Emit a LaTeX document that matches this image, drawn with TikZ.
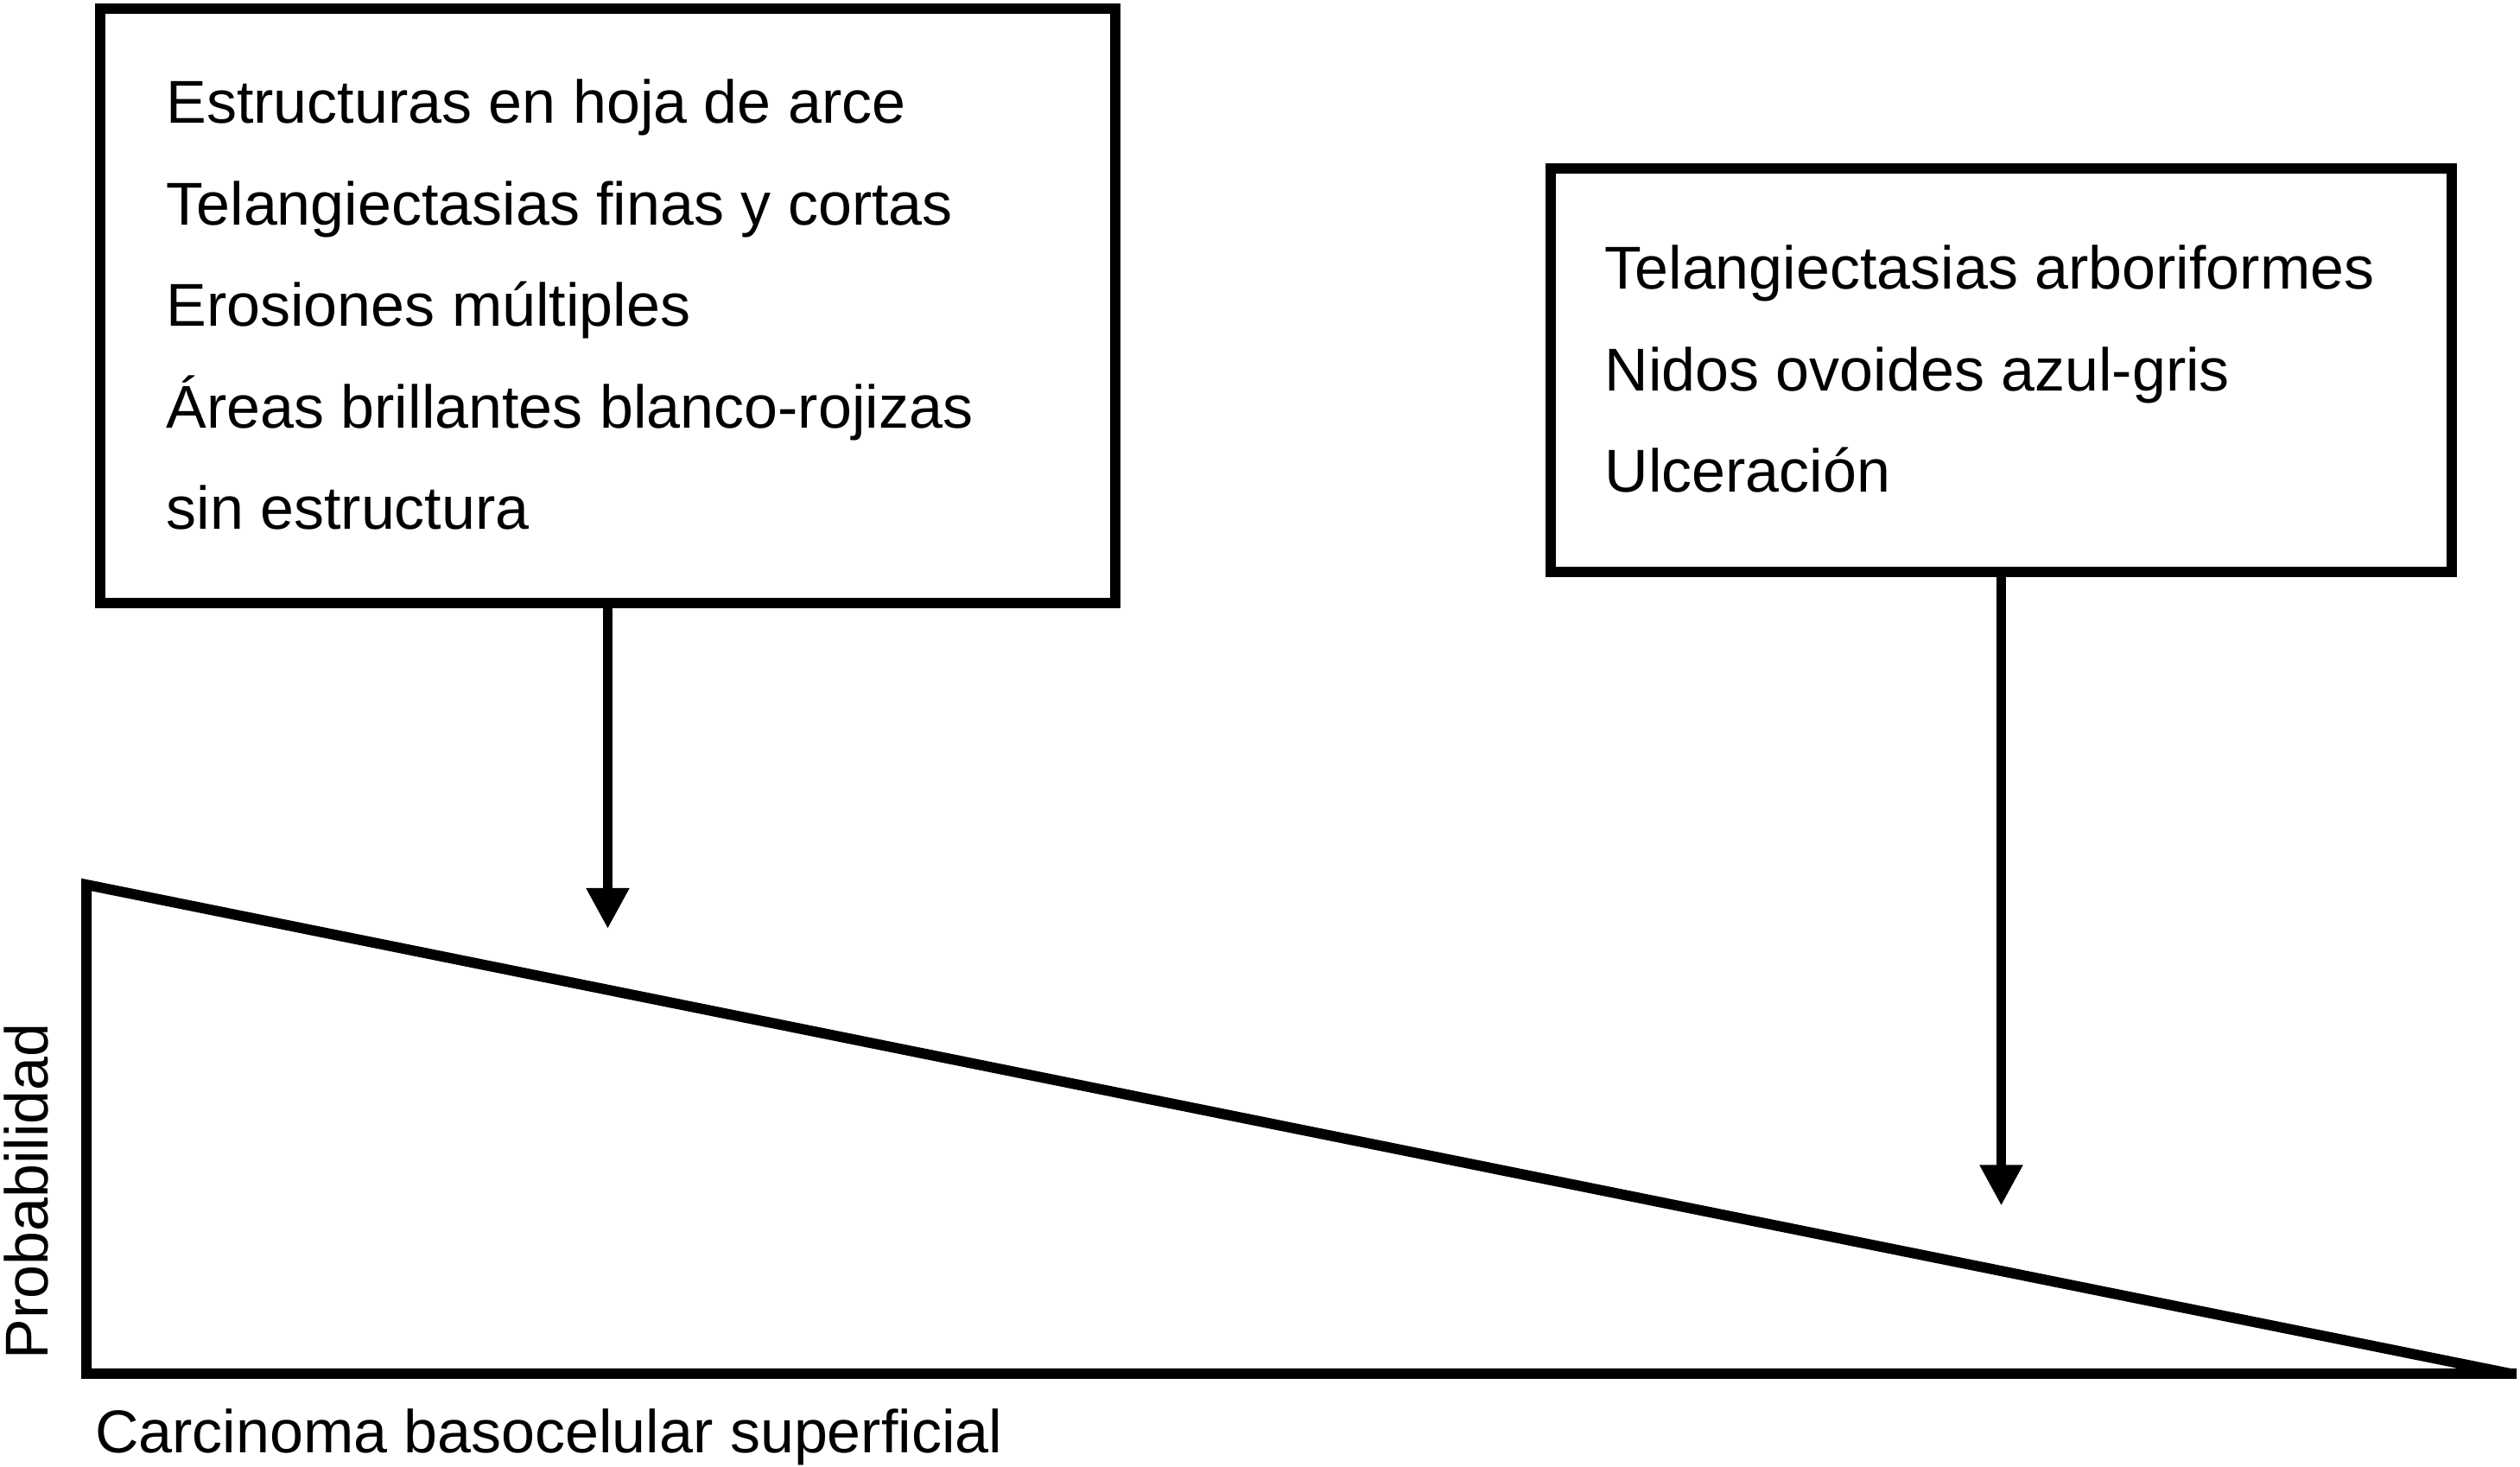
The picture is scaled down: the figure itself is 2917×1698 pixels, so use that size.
\documentclass[tikz,border=0pt]{standalone}
\usepackage{fontspec}
\setmainfont{Liberation Sans}
\usetikzlibrary{arrows.meta}
\begin{document}
\begin{tikzpicture}[x=0.25pt,y=-0.25pt,
  box/.style={draw, line width=3pt, inner sep=0pt, fill=white},
  lbl/.style={anchor=base west, inner sep=0pt, outer sep=0pt, font=\fontsize{17.5pt}{20pt}\selectfont},
  conn/.style={line width=2.8pt, -{Triangle[length=11.75pt,width=11.75pt]}},
  heavy/.style={line width=3pt, line join=miter}]
\useasboundingbox (0,0) rectangle (2917,1698);
% boxes
\node[box, minimum width=293.75pt, minimum height=172pt] (lbox) at (703.5,354) {};
\node[box, minimum width=260.75pt, minimum height=116.75pt] (rbox) at (2316.5,428.5) {};
% left box text
\node[lbl] (l1) at (192.5,142.7) {Estructuras en hoja de arce};
\node[lbl] (l2) at (192.5,260.2) {Telangiectasias finas y cortas};
\node[lbl] (l3) at (192.5,377.7) {Erosiones múltiples};
\node[lbl] (l4) at (192.5,495.2) {Áreas brillantes blanco-rojizas};
\node[lbl] (l5) at (192.5,612.7) {sin estructura};
% right box text
\node[lbl] (r1) at (1857.5,335) {Telangiectasias arboriformes};
\node[lbl] (r2) at (1857.5,452.5) {Nidos ovoides azul-gris};
\node[lbl] (r3) at (1857.5,570) {Ulceración};
% arrows
\coordinate (lt) at (703.5,1075);
\coordinate (rt) at (2316.5,1395.5);
\draw[conn] (lbox.south) -- (lt);
\draw[conn] (rbox.south) -- (rt);
% triangle
\coordinate (tA) at (100,1024);
\coordinate (tB) at (2906,1590);
\coordinate (tC) at (100,1590);
\coordinate (tD) at (2913,1590);
\draw[heavy] (tD) -- (tC) -- (tA) -- (tB);
% axis labels
\node[lbl, rotate=90] (prob) at (55,1573.5) {Probabilidad};
\node[lbl] (carc) at (110,1681.5) {Carcinoma basocelular superficial};
\end{tikzpicture}
\end{document}
